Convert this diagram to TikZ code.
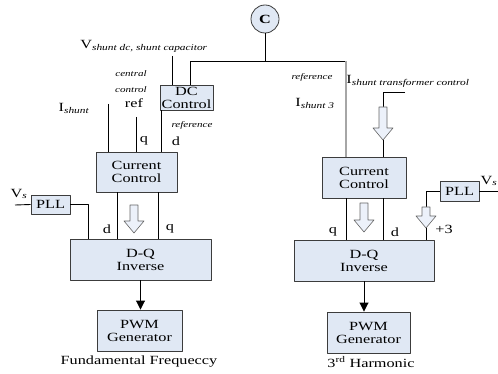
\documentclass[tikz,border=0pt]{standalone}
\usepackage{fontspec}
\setmainfont{Liberation Serif}[FakeStretch=1.3]
\usetikzlibrary{arrows.meta}
\definecolor{boxfill}{RGB}{224,232,244}
\definecolor{boxline}{RGB}{60,60,60}
\definecolor{hollowfill}{RGB}{236,241,250}
\newcommand\lowtxt[1]{\textsubscript{\itshape #1}}
\tikzset{
  block/.style={draw=boxline, fill=boxfill, line width=0.9pt, align=center, inner sep=0pt, font=\fontsize{12.5}{13}\selectfont},
  lab/.style={inner sep=0pt, font=\fontsize{12.5}{13}\selectfont},
  small/.style={inner sep=0pt, align=center, font=\fontsize{8.5}{16}\selectfont\itshape},
  wire/.style={line width=0.9pt},
  pics/hollow/.style={code={
    \draw[draw=gray!80!black, fill=hollowfill, line width=0.6pt]
      (-4,0) -- (-4,#1-12) -- (-10,#1-12) -- (0,#1) -- (10,#1-12) -- (4,#1-12) -- (4,0) -- cycle;}}
}
\begin{document}
\begin{tikzpicture}[x=1pt, y=-1pt, line join=round, >={Triangle[width=9pt,length=9pt]}]
\useasboundingbox (0,0) rectangle (498,374);
% blocks
\node[draw=boxline, fill=boxfill, circle, minimum size=28pt, line width=0.8pt, font=\fontsize{12.5}{13}\selectfont\bfseries] (C) at (265,19) {C};
\node[block, minimum width=53pt, minimum height=25pt] (dc) at (186.5,97.5) {DC\\Control};
\node[block, minimum width=81pt, minimum height=40pt] (ccL) at (136.5,172) {Current\\Control};
\node[block, minimum width=39pt, minimum height=19pt] (pllL) at (50.5,204.5) {PLL};
\node[block, minimum width=141pt, minimum height=41pt] (dqL) at (140.5,259.5) {D-Q\\Inverse};
\node[block, minimum width=85pt, minimum height=41pt] (pwmL) at (139.5,330.5) {PWM\\Generator};
\node[block, minimum width=84pt, minimum height=41pt] (ccR) at (364,177.5) {Current\\Control};
\node[block, minimum width=39pt, minimum height=20pt] (pllR) at (459.5,191) {PLL};
\node[block, minimum width=140pt, minimum height=41pt] (dqR) at (364,260.5) {D-Q\\Inverse};
\node[block, minimum width=83pt, minimum height=41pt] (pwmR) at (368.5,332.5) {PWM\\Generator};

% labels
\node[lab] (vdc) at (144,46) {V\lowtxt{shunt dc, shunt capacitor}};
\node[small] (central) at (131,82) {central\\control};
\node[lab] (ref) at (134,103) {ref};
\node[lab] (ishL) at (74,108) {I\lowtxt{shunt}};
\node[small] (refdc) at (192,125) {reference};
\node[lab] (qtop) at (144,141) {q};
\node[lab] (dtop) at (176,141) {d};
\node[lab] (vsL) at (19,194) {V\lowtxt{s}};
\node[lab] (dL) at (107,229) {d};
\node[lab] (qL) at (170,229) {q};
\node[lab] (capL) at (139,362) {Fundamental Frequeccy};
\node[small] (refR) at (312,77) {reference};
\node[lab] (ishR) at (315,103) {I\lowtxt{shunt 3}};
\node[lab] (ishT) at (408,81) {I\lowtxt{shunt transformer control}};
\node[lab] (vsR) at (489,181) {V\lowtxt{s}};
\node[lab] (qR) at (333,232) {q};
\node[lab] (dR) at (395,232) {d};
\node[lab] (plus) at (444,229) {+3};
\node[lab] (capR) at (371,362) {3\textsuperscript{rd} Harmonic};

% connectors
\coordinate (busL) at (190,61);
\coordinate (busR) at (346,61);
\coordinate (vin) at (172,56);
\coordinate (ishin) at (108,104);
\coordinate (refin) at (136,117);
\coordinate (vsLin) at (15,205);
\coordinate (tin) at (405,92);
\coordinate (tarrow) at (383,107);
\coordinate (tend) at (383,140);
\coordinate (vsRin) at (498,191);
\coordinate (parrow) at (426,207);
\coordinate (pend) at (426,228);
\draw[wire] (C.south) -- (C.south |- busL);
\draw[wire] (busL |- dc.north) -- (busL) -- (busR);
\draw[line width=1.2pt, gray!70] (busR) -- (busR |- ccR.north);
\draw[wire] (vin) -- (vin |- dc.north);
\draw[wire] (ishin) -- (ishin |- ccL.north);
\draw[wire] (refin) -- (refin |- ccL.north);
\draw[wire] ([xshift=2pt]dc.south west) -- ([xshift=2pt]dc.south west |- ccL.north);
\foreach \s in {-19.5,21.5}
  \draw[wire] ([xshift=\s pt]ccL.south) -- ([xshift=\s pt]ccL.south |- dqL.north);
\pic at (134,205) {hollow=28};
\draw[wire] (vsLin) -- (pllL.west);
\draw[wire] (pllL.east) -| ([xshift=-52.5pt]dqL.north);
\draw[wire, ->] (dqL.south) -- (dqL.south |- pwmL.north);
\draw[wire] (tin) -| (tarrow);
\pic at (tarrow) {hollow=33};
\draw[wire] (tend) -- (tend |- ccR.north);
\foreach \s in {-18,19}
  \draw[wire] ([xshift=\s pt]ccR.south) -- ([xshift=\s pt]ccR.south |- dqR.north);
\pic at (364,203) {hollow=29};
\draw[wire] (vsRin) -- (pllR.east);
\draw[wire] (pllR.west) -| (parrow);
\pic at (parrow) {hollow=21};
\draw[wire] (pend) -- (pend |- dqR.north);
\draw[wire, ->] (dqR.south) -- (dqR.south |- pwmR.north);
\end{tikzpicture}
\end{document}
